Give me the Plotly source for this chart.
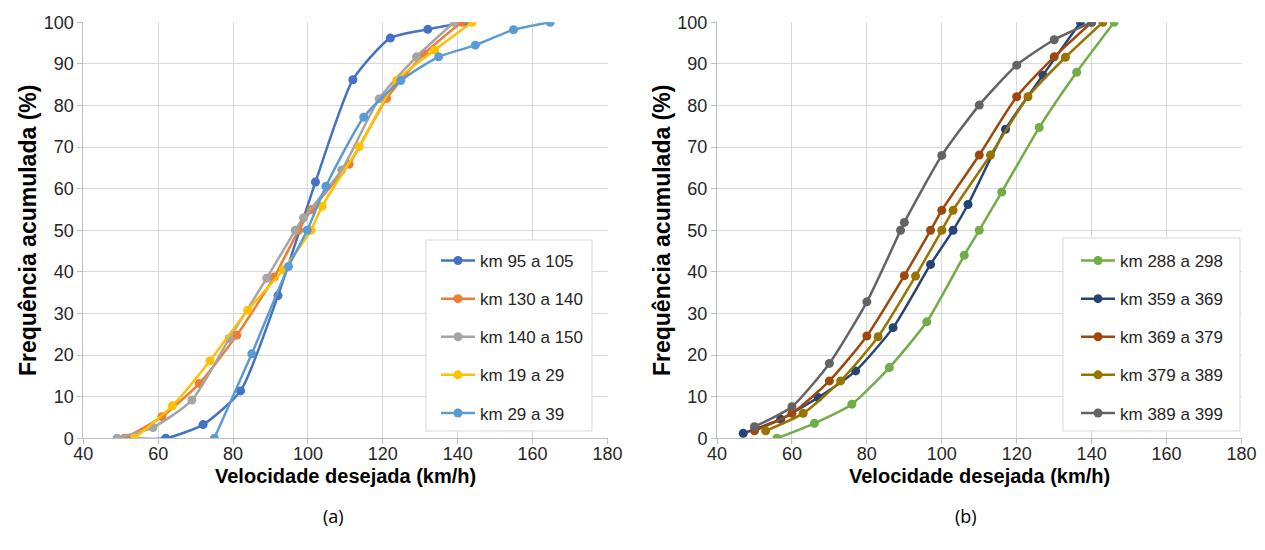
import plotly.graph_objects as go

# ---- Panel (a) ----
a_names = ["km 95 a 105", "km 130 a 140", "km 140 a 150", "km 19 a 29", "km 29 a 39"]
a_colors = ["#4472C4", "#ED7D31", "#A5A5A5", "#FFC000", "#5B9BD5"]
a1_x = [52, 62, 72, 82, 92, 102, 112, 122, 132, 142]
a1_y = [0, 0, 3.3, 11.4, 34.3, 61.6, 86.2, 96.2, 98.3, 100]
a2_x = [51, 61, 71, 81, 91, 97.5, 101, 111, 121, 131, 141]
a2_y = [0, 5.2, 13.2, 24.8, 38.8, 50, 55, 65.9, 81.7, 92.4, 100]
a3_x = [49, 58.6, 69, 79, 89, 96.6, 98.8, 109, 119, 129, 139]
a3_y = [0, 2.6, 9.2, 24, 38.5, 50, 53, 64.5, 81.6, 91.7, 100]
a4_x = [53.6, 63.8, 73.8, 83.9, 93.4, 100.8, 103.8, 113.7, 123.7, 133.8, 143.8]
a4_y = [0, 7.8, 18.6, 30.8, 40.5, 50, 55.8, 70.1, 86, 93.3, 100]
a5_x = [75, 85, 94.8, 99.8, 104.8, 114.9, 124.8, 134.9, 144.7, 154.9, 164.7]
a5_y = [0, 20.3, 41.3, 50, 60.6, 77.2, 86, 91.7, 94.5, 98.2, 100]

# ---- Panel (b) ----
b_names = ["km 288 a 298", "km 359 a 369", "km 369 a 379", "km 379 a 389", "km 389 a 399"]
b_colors = ["#70AD47", "#264478", "#9E480E", "#997300", "#636363"]
b1_x = [56, 66, 76, 86, 96, 106, 110, 116, 126, 136, 146]
b1_y = [0, 3.6, 8.2, 17, 28, 44, 50, 59.2, 74.7, 88, 100]
b2_x = [47, 57, 67, 77, 87, 97, 103, 107, 117, 127, 137]
b2_y = [1.2, 4.6, 9.8, 16.2, 26.6, 41.8, 50, 56.2, 74.3, 87.3, 100]
b3_x = [50, 60, 70, 80, 90, 97, 100, 110, 120, 130, 140]
b3_y = [1.8, 6, 13.8, 24.6, 39.1, 50, 54.8, 68.1, 82.1, 91.7, 100]
b4_x = [53, 63, 73, 83, 93, 100, 103, 113, 123, 133, 143]
b4_y = [1.8, 6, 13.8, 24.4, 39, 50, 54.8, 68.1, 82.1, 91.6, 100]
b5_x = [50, 60, 70, 80, 89, 90, 100, 110, 120, 130, 140]
b5_y = [2.8, 7.6, 18, 32.8, 50, 51.9, 68, 80.1, 89.7, 95.8, 100]

x_ticks = [40, 60, 80, 100, 120, 140, 160, 180]
y_ticks = [0, 10, 20, 30, 40, 50, 60, 70, 80, 90, 100]

x_title = "Velocidade desejada (km/h)"
y_title = "Frequência acumulada (%)"
panel_labels = ["(a)", "(b)"]

W, H = 1265, 550
FONT = "Liberation Sans Narrow, Arial Narrow, Liberation Sans, Arial, sans-serif"

fig = go.Figure()

a_data = [(a1_x, a1_y), (a2_x, a2_y), (a3_x, a3_y), (a4_x, a4_y), (a5_x, a5_y)]
b_data = [(b1_x, b1_y), (b2_x, b2_y), (b3_x, b3_y), (b4_x, b4_y), (b5_x, b5_y)]

for i, ((xs, ys), name, col) in enumerate(zip(a_data, a_names, a_colors)):
    fig.add_trace(go.Scatter(
        x=xs, y=ys, name=name, mode="lines+markers",
        line=dict(color=col, width=2.5, shape="spline", smoothing=0.6),
        marker=dict(color=col, size=9),
        xaxis="x", yaxis="y", legend="legend", legendgroup="a%d" % i,
    ))
for i, ((xs, ys), name, col) in enumerate(zip(b_data, b_names, b_colors)):
    fig.add_trace(go.Scatter(
        x=xs, y=ys, name=name, mode="lines+markers",
        line=dict(color=col, width=2.5, shape="spline", smoothing=0.6),
        marker=dict(color=col, size=9),
        xaxis="x2", yaxis="y2", legend="legend2", legendgroup="b%d" % i,
    ))

def px(v):
    return v / W

def py(v):
    return 1 - v / H

ydom = [py(438.3), py(22.3)]
xdom_a = [px(83.3), px(607.5)]
xdom_b = [px(717.0), px(1241.5)]

axis_common = dict(
    showgrid=True, gridcolor="#d9d9d9", gridwidth=1,
    showline=True, linecolor="#bfbfbf", linewidth=1,
    ticks="outside", ticklen=5, tickcolor="#bfbfbf",
    tickfont=dict(family=FONT, size=18, color="#262626"),
    zeroline=False, fixedrange=True, automargin=False,
)
xaxis_extra = dict(ticklabelstandoff=-6)
title_font = dict(family=FONT, size=20, color="black")
ytitle_font = dict(family=FONT, size=23, color="black")
leg_font = dict(family=FONT, size=17, color="#262626")
lab_font = dict(family="Open Sans, Noto Sans, sans-serif", size=18, color="black")

def mid(d):
    return (d[0] + d[1]) / 2

fig.update_layout(
    width=W, height=H,
    margin=dict(l=0, r=0, t=0, b=0, autoexpand=False),
    paper_bgcolor="white", plot_bgcolor="white",
    font=dict(family=FONT, color="#262626"),
    xaxis=dict(domain=xdom_a, range=[40, 180], tickvals=x_ticks,
               anchor="y", **axis_common, **xaxis_extra),
    yaxis=dict(domain=ydom, range=[0, 100], tickvals=y_ticks, anchor="x",
               title=dict(text="<b>" + y_title + "</b>", font=ytitle_font, standoff=0),
               **axis_common),
    xaxis2=dict(domain=xdom_b, range=[40, 180], tickvals=x_ticks,
                anchor="y2", **axis_common, **xaxis_extra),
    yaxis2=dict(domain=ydom, range=[0, 100], tickvals=y_ticks, anchor="x2",
                title=dict(text="<b>" + y_title + "</b>", font=ytitle_font, standoff=0),
                **axis_common),
    legend=dict(x=px(436), y=py(243), xanchor="left", yanchor="top",
                borderwidth=0, bgcolor="rgba(0,0,0,0)",
                font=leg_font, tracegroupgap=13, itemwidth=34),
    legend2=dict(x=px(1076), y=py(243), xanchor="left", yanchor="top",
                 borderwidth=0, bgcolor="rgba(0,0,0,0)",
                 font=leg_font, tracegroupgap=13, itemwidth=34),
    shapes=[
        dict(type="rect", xref="paper", yref="paper",
             x0=px(426), x1=px(592), y0=py(431), y1=py(240),
             line=dict(color="#d9d9d9", width=1), fillcolor="white", layer="above"),
        dict(type="rect", xref="paper", yref="paper",
             x0=px(1063), x1=px(1240), y0=py(431), y1=py(238),
             line=dict(color="#d9d9d9", width=1), fillcolor="white", layer="above"),
    ],
    annotations=[
        dict(text="<b>" + x_title + "</b>", x=mid(xdom_a), y=py(476), xref="paper", yref="paper",
             xanchor="center", yanchor="middle", showarrow=False, font=title_font),
        dict(text="<b>" + x_title + "</b>", x=mid(xdom_b), y=py(476), xref="paper", yref="paper",
             xanchor="center", yanchor="middle", showarrow=False, font=title_font),
        dict(text=panel_labels[0], x=px(333), y=py(516), xref="paper", yref="paper",
             xanchor="center", yanchor="middle", showarrow=False, font=lab_font),
        dict(text=panel_labels[1], x=px(966), y=py(516), xref="paper", yref="paper",
             xanchor="center", yanchor="middle", showarrow=False, font=lab_font),
    ],
)

fig.write_html("out.html", config={"displayModeBar": False},
               post_script="document.body.style.margin='0';document.body.style.overflow='hidden';")
